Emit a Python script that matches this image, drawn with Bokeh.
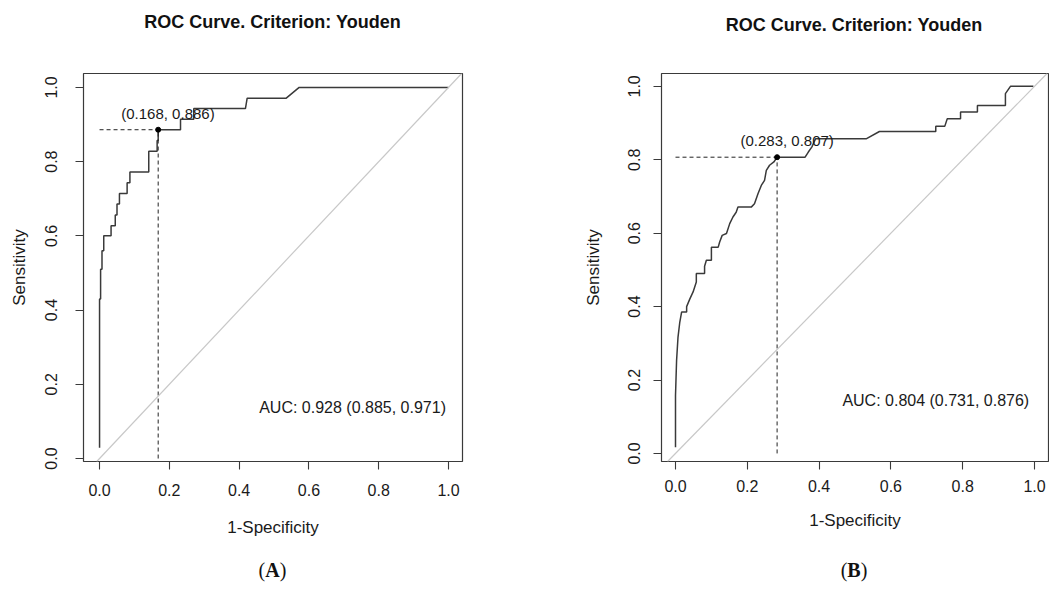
from bokeh.plotting import figure
from bokeh.models import Range1d, Label, Slope, FixedTicker, PrintfTickFormatter, Div
from bokeh.layouts import row, column
from bokeh.embed import file_html
from bokeh.resources import INLINE

# ---------------- data ----------------
title_text = "ROC Curve. Criterion: Youden"
x_label = "1-Specificity"
y_label = "Sensitivity"
tick_values = [0.0, 0.2, 0.4, 0.6, 0.8, 1.0]

# Panel A
fpr_a = [0.0, 0.0, 0.003, 0.003, 0.007, 0.007, 0.012, 0.012, 0.033, 0.033,
         0.045, 0.045, 0.050, 0.050, 0.057, 0.057, 0.079, 0.079, 0.087, 0.087,
         0.141, 0.141, 0.165, 0.165, 0.168, 0.168, 0.232, 0.232, 0.270, 0.270,
         0.418, 0.423, 0.535, 0.572, 1.0]
tpr_a = [0.029, 0.430, 0.430, 0.510, 0.510, 0.560, 0.560, 0.600, 0.600, 0.627,
         0.627, 0.656, 0.656, 0.686, 0.686, 0.714, 0.714, 0.743, 0.743, 0.772,
         0.772, 0.828, 0.828, 0.857, 0.857, 0.886, 0.886, 0.914, 0.914, 0.943,
         0.943, 0.971, 0.971, 1.0, 1.0]
opt_a = (0.168, 0.886)
opt_label_a = "(0.168, 0.886)"
auc_a = "AUC: 0.928 (0.885, 0.971)"
caption_a = "A"

# Panel B
fpr_b = [0.0, 0.0, 0.003, 0.007, 0.012, 0.017, 0.031, 0.031, 0.040, 0.049,
         0.058, 0.058, 0.081, 0.081, 0.086, 0.100, 0.100, 0.119, 0.123, 0.130,
         0.142, 0.151, 0.160, 0.169, 0.174, 0.211, 0.220, 0.230, 0.239, 0.248,
         0.253, 0.262, 0.274, 0.283, 0.361, 0.370, 0.380, 0.390, 0.531, 0.568,
         0.725, 0.725, 0.750, 0.757, 0.794, 0.794, 0.841, 0.841, 0.919, 0.919,
         0.933, 0.997]
tpr_b = [0.017, 0.158, 0.253, 0.317, 0.358, 0.385, 0.385, 0.400, 0.421, 0.440,
         0.467, 0.490, 0.490, 0.510, 0.526, 0.526, 0.562, 0.562, 0.576, 0.594,
         0.599, 0.626, 0.644, 0.657, 0.671, 0.671, 0.680, 0.708, 0.730, 0.744,
         0.771, 0.785, 0.794, 0.807, 0.807, 0.821, 0.835, 0.857, 0.857, 0.877,
         0.877, 0.891, 0.891, 0.912, 0.912, 0.930, 0.930, 0.948, 0.948, 0.980,
         1.0, 1.0]
opt_b = (0.283, 0.807)
opt_label_b = "(0.283, 0.807)"
auc_b = "AUC: 0.804 (0.731, 0.876)"
caption_b = "B"

TXT = "#1a1a1a"
TITLE_H = 36
CAP_H = 40
FIG_H = 509


def make_panel(fpr, tpr, opt, opt_label, auc, xr, yr, borders, width, height,
               xstand, xlabstand, ystand, ylabstand, auc_y):
    left, right, top, bottom = borders
    p = figure(width=width, height=height, output_backend="svg", toolbar_location=None,
               x_range=Range1d(*xr), y_range=Range1d(*yr),
               min_border_left=left, min_border_right=right,
               min_border_top=top, min_border_bottom=bottom)
    p.background_fill_color = "white"
    p.border_fill_color = "white"
    p.grid.visible = False
    p.outline_line_color = "#3a3a3a"
    p.outline_line_width = 1.2

    for ax in (p.xaxis[0], p.yaxis[0]):
        ax.ticker = FixedTicker(ticks=tick_values)
        ax.formatter = PrintfTickFormatter(format="%.1f")
        ax.axis_line_color = None
        ax.major_tick_line_color = "#3a3a3a"
        ax.major_tick_line_width = 1.1
        ax.major_tick_in = 0
        ax.major_tick_out = 8
        ax.minor_tick_line_color = None
        ax.major_label_text_font = "Liberation Sans"
        ax.major_label_text_font_size = "16px"
        ax.major_label_text_color = TXT
        ax.axis_label_text_font = "Liberation Sans"
        ax.axis_label_text_font_size = "17px"
        ax.axis_label_text_font_style = "normal"
        ax.axis_label_text_color = TXT
    p.xaxis.axis_label = x_label
    p.yaxis.axis_label = y_label
    p.xaxis.major_label_standoff = xstand
    p.xaxis.axis_label_standoff = xlabstand
    p.yaxis.major_label_standoff = ystand
    p.yaxis.axis_label_standoff = ylabstand
    p.yaxis.major_label_orientation = "vertical"

    # chance diagonal
    p.add_layout(Slope(gradient=1, y_intercept=0, line_color="#c8c8c8", line_width=1.2))

    # ROC curve
    p.line(fpr, tpr, line_color="#3a3a3a", line_width=1.5)

    # optimal cut-point guides
    ox, oy = opt
    p.line([0, ox], [oy, oy], line_color="#222222", line_width=1, line_dash="4 3")
    p.line([ox, ox], [0, oy], line_color="#222222", line_width=1, line_dash="4 3")
    p.scatter([ox], [oy], size=5, color="black")
    p.add_layout(Label(x=ox + 0.028, y=oy + 0.045, text=opt_label, text_align="center",
                       text_baseline="middle", text_font="Liberation Sans",
                       text_font_size="15px", text_color=TXT))

    # AUC
    p.add_layout(Label(x=0.725, y=auc_y, text=auc, text_align="center",
                       text_baseline="middle", text_font="Liberation Sans",
                       text_font_size="16px", text_color=TXT))
    return p


def title_div(width, left, frame_w, pad_top):
    html = ('<div style="margin-left:%dpx;width:%dpx;padding-top:%dpx;text-align:center;'
            'font-family:\'Liberation Sans\';font-weight:bold;font-size:18px;line-height:22px;'
            'color:#111;white-space:nowrap;">%s</div>' % (left, frame_w, pad_top, title_text))
    return Div(text=html, width=width, height=TITLE_H, margin=0)


def caption_div(width, left, frame_w, pad_top, letter):
    html = ('<div style="margin-left:%dpx;width:%dpx;padding-top:%dpx;text-align:center;'
            'font-family:\'Liberation Serif\';font-size:20px;line-height:24px;color:#111;">'
            '(<b>%s</b>)</div>' % (left, frame_w, pad_top, letter))
    return Div(text=html, width=width, height=CAP_H, margin=0)


bottom_border = TITLE_H + FIG_H - 461
pa = make_panel(fpr_a, tpr_a, opt_a, opt_label_a, auc_a,
                xr=(-0.046, 1.040), yr=(-0.008, 1.0375),
                borders=(83, 118, 71 - TITLE_H, bottom_border), width=580, height=FIG_H,
                xstand=14, xlabstand=19, ystand=18, ylabstand=14, auc_y=0.137)
pb = make_panel(fpr_b, tpr_b, opt_b, opt_label_b, auc_b,
                xr=(-0.039, 1.039), yr=(-0.022, 1.035),
                borders=(80, 1, 73 - TITLE_H, bottom_border), width=469, height=FIG_H,
                xstand=10, xlabstand=16, ystand=13, ylabstand=23, auc_y=0.145)

layout = column(
    row(title_div(580, 83, 379, 11), title_div(469, 80, 388, 14)),
    row(pa, pb),
    row(caption_div(580, 83, 379, 13, caption_a), caption_div(469, 80, 388, 13, caption_b)),
)

open("out.html", "w").write(file_html(layout, INLINE))
